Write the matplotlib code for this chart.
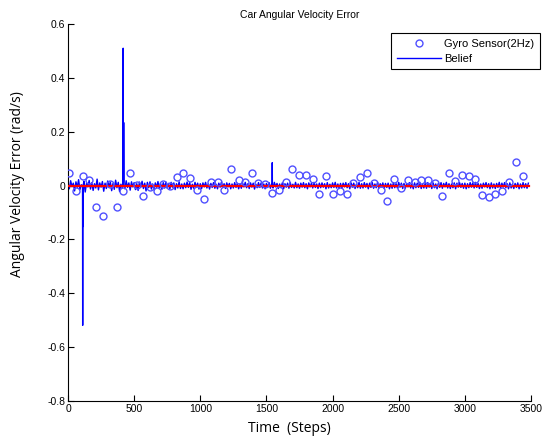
import numpy as np
import matplotlib
matplotlib.use('Agg')
import matplotlib.pyplot as plt

# gyro sensor readings (2Hz), step index and angular velocity error (rad/s)
sensor_steps = [10, 60, 111, 160, 209, 262, 318, 368, 418, 465,
                519, 569, 620, 670, 720, 770, 822, 873, 925, 975,
                1030, 1080, 1131, 1182, 1232, 1290, 1338, 1388, 1439, 1490,
                1544, 1595, 1645, 1696, 1746, 1799, 1849, 1900, 1950, 2000,
                2055, 2106, 2157, 2207, 2258, 2310, 2363, 2414, 2464, 2515,
                2570, 2620, 2671, 2721, 2772, 2825, 2877, 2927, 2978, 3029,
                3079, 3129, 3180, 3230, 3280, 3334, 3386, 3437]
sensor_err = [0.046, -0.021, 0.034, 0.020, -0.080, -0.112, 0.004, -0.080, -0.019, 0.048,
              0.003, -0.037, -0.005, -0.021, 0.005, -0.003, 0.032, 0.045, 0.029, -0.015,
              -0.050, 0.014, 0.013, -0.015, 0.061, 0.020, 0.013, 0.048, 0.010, 0.004,
              -0.026, -0.017, 0.013, 0.061, 0.041, 0.041, 0.026, -0.030, 0.036, -0.030,
              -0.022, -0.030, 0.010, 0.032, 0.045, 0.010, -0.017, -0.057, 0.025, -0.008,
              0.020, 0.012, 0.020, 0.020, 0.010, -0.037, 0.045, 0.016, 0.041, 0.036,
              0.024, -0.034, -0.042, -0.030, -0.022, 0.012, 0.086, 0.036]

# belief error read every 10 steps (x0.001 rad/s)
belief_step = 10
belief_milli = [
    6, -12, 18, -4, 9, -20, 14, -7, 22, -15, 3, -10, 16, -24, 8, -5, 19, -13, 11, -18, 7, -9, 24, -16, 10,
    -6, 15, -21, 9, -11, 17, -4, 13, -19, 8, -14, 20, -8, 12, -22, 5, -9, 16, -12, 18, -7, 10, -17, 14, -5,
    11, -15, 7, -18, 13, -6, 16, -11, 9, -20, 12, -8, 14, -13, 6, -16, 10, -7, 15, -12, 8, -14, 11, -9, 13,
    -10, 8, -13, 12, -6, 10, -15, 7, -9, 14, -11, 6, -12, 9, -8, 13, -7, 11, -14, 5, -10, 12, -6, 9, -13,
    7, -11, 10, -5, 12, -9, 6, -13, 8, -7, 11, -10, 5, -12, 9, -6, 13, -8, 7, -11, 10, -5, 8, -12, 6,
    -9, 11, -7, 8, -12, 6, -10, 9, -5, 12, -8, 7, -11, 10, -6, 9, -13, 5, -8, 11, -7, 10, -9, 6, -12,
    8, -6, 11, -10, 7, -9, 12, -5, 8, -11, 6, -8, 10, -12, 7, -6, 9, -10, 11, -7, 5, -9, 12, -8, 6,
    -10, 9, -6, 11, -8, 7, -12, 10, -5, 8, -9, 12, -7, 6, -11, 9, -8, 10, -6, 7, -12, 11, -9, 5, -8,
    10, -7, 12, -9, 6, -11, 8, -10, 9, -5, 11, -8, 7, -12, 10, -6, 9, -11, 5, -8, 12, -10, 7, -9, 11,
    -6, 8, -12, 9, -7, 11, -10, 6, -8, 12, -9, 7, -5, 10, -11, 8, -7, 9, -12, 6, -10, 11, -8, 7, -9,
    12, -6, 9, -11, 8, -10, 7, -5, 11, -9, 6, -12, 10, -8, 9, -7, 12, -11, 5, -9, 8, -10, 11, -6, 7,
    -11, 10, -8, 6, -12, 9, -7, 11, -10, 8, -5, 12, -9, 7, -11, 6, -8, 10, -12, 9, -6, 11, -7, 8, -10,
    9, -12, 7, -8, 11, -6, 10, -9, 12, -7, 8, -11, 6, -10, 9, -5, 11, -8, 7, -12, 10, -9, 6, -11, 8,
    -7, 12, -10, 9, -6, 11, -8, 7, -12, 10, -9, 5, -11, 8, -7, 10, -12, 6, -9, 11, -8, 7, -10, 9,
]

# spikes in the belief right after sensor updates
spike_steps = [109, 111, 112, 114, 115, 415, 417, 418, 421, 423, 1543, 1544, 1545]
spike_err = [0.0, -0.519, 0.0, -0.152, 0.0, 0.0, 0.510, 0.0, 0.234, 0.0, 0.0, 0.085, 0.0]

truth_steps = [0, 3487]
truth_err = [0.0, 0.0]

x_ticks = [0, 500, 1000, 1500, 2000, 2500, 3000, 3500]
y_ticks = [-0.8, -0.6, -0.4, -0.2, 0, 0.2, 0.4, 0.6]
y_labels = ['-0.8', '-0.6', '-0.4', '-0.2', '0', '0.2', '0.4', '0.6']

narrow = ['Liberation Sans Narrow', 'Liberation Sans', 'DejaVu Sans']

b_steps = np.arange(len(belief_milli)) * belief_step
b_vals = np.array(belief_milli) / 1000.0
all_steps = np.concatenate([b_steps, spike_steps])
all_vals = np.concatenate([b_vals, spike_err])
order = np.argsort(all_steps, kind='stable')
all_steps = all_steps[order]
all_vals = all_vals[order]

fig = plt.figure(figsize=(5.56, 4.42), dpi=100)
ax = fig.add_axes([68 / 556, 1 - 401 / 442, (531 - 68) / 556, (401 - 24) / 442])

ax.plot(sensor_steps, sensor_err, 'o', mfc='none', mec='#5050ff', ms=5, mew=1.0,
        label='Gyro Sensor(2Hz)', zorder=4)
ax.plot(all_steps, all_vals, '-', color='#0000ff', lw=1.0, label='Belief', zorder=2)
ax.plot(truth_steps, truth_err, '-', color='#ff0000', lw=1.6, zorder=3)

ax.set_xlim(0, 3500)
ax.set_ylim(-0.8, 0.6)
ax.set_xticks(x_ticks)
ax.set_xticklabels([str(t) for t in x_ticks], family=narrow, fontsize=7.5)
ax.set_yticks(y_ticks)
ax.set_yticklabels(y_labels, family=narrow, fontsize=7.5)
ax.tick_params(direction='in', length=4, width=0.8, pad=2)
ax.spines['top'].set_visible(False)
ax.spines['right'].set_visible(False)

ax.set_title('Car Angular Velocity Error', family=narrow, fontsize=7.5, pad=4)
ax.set_xlabel('Time  (Steps)', family='Open Sans', fontsize=10)
ax.set_ylabel('Angular Velocity Error (rad/s)', family='Open Sans', fontsize=10)
ax.xaxis.set_label_coords(0.479, -0.053)
ax.yaxis.set_label_coords(-0.093, 0.576)

leg = ax.legend(loc='upper right', bbox_to_anchor=(540 / 556, 1 - 33 / 442),
                bbox_transform=fig.transFigure, borderaxespad=0, fancybox=False,
                framealpha=1, edgecolor='black', prop={'family': narrow, 'size': 8},
                handlelength=4.0, borderpad=0.5, labelspacing=0.45, handletextpad=0.3)
leg.get_frame().set_linewidth(0.8)

fig.savefig('out.png', dpi=100)
